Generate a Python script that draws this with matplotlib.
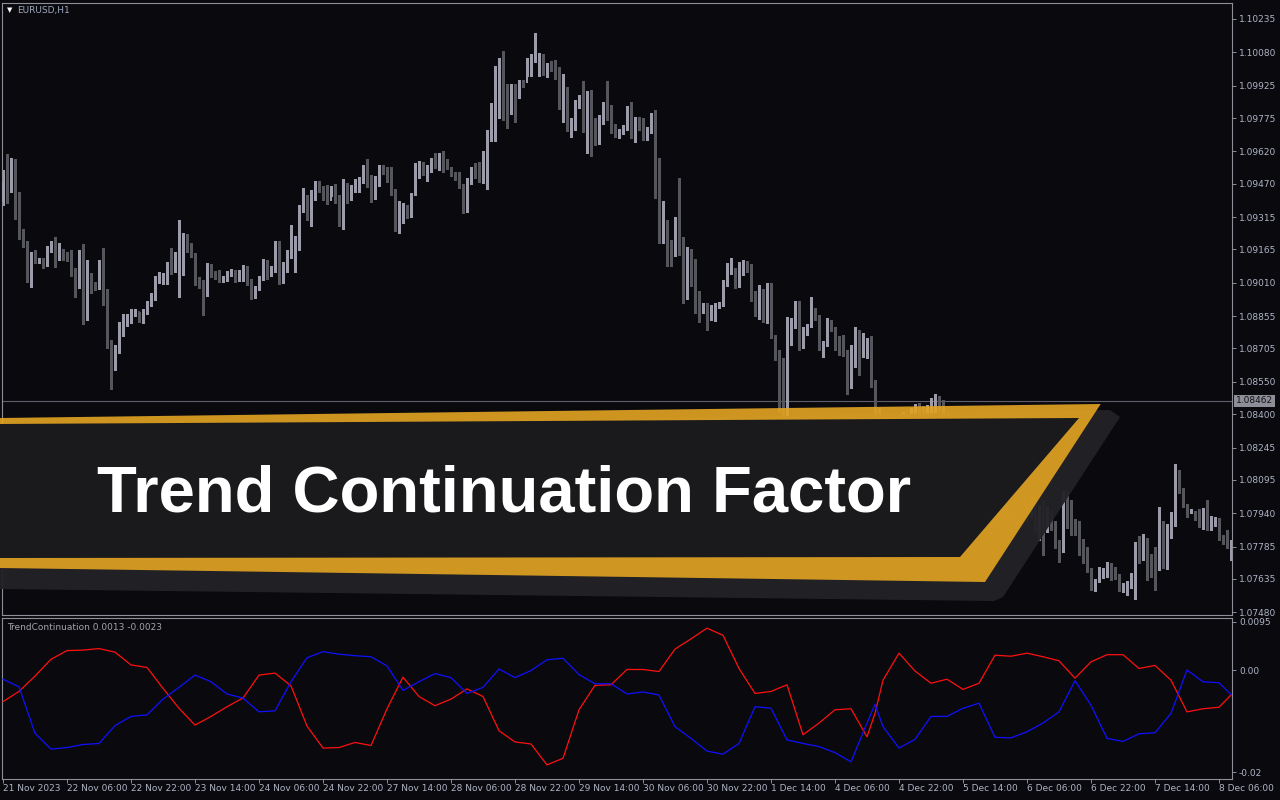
import matplotlib
matplotlib.use("Agg")
import matplotlib.pyplot as plt
import matplotlib.transforms as mtransforms
from matplotlib.patches import Polygon
import numpy as np

# ---------------- data (EURUSD H1, prices in points = 1e-5) ----------------
open0_pts = 109385
close_pts = [
    109478, 109446, 109529, 109334, 109218, 109199, 109069, 109144, 109111, 109116,
    109088, 109167, 109190, 109130, 109158, 109134, 109125, 109065, 108995, 109139,
    108842, 109018, 109000, 108990, 109060, 108953, 108730, 108647, 108698, 108782,
    108837, 108842, 108870, 108879, 108847, 108874, 108912, 108944, 109028, 109042,
    109046, 109097, 109074, 109134, 109172, 109227, 109181, 109139, 109023, 109004,
    108953, 109093, 109051, 109046, 109023, 109023, 109051, 109065, 109023, 109056,
    109065, 109009, 108944, 108986, 109032, 109111, 109065, 109074, 109176, 109018,
    109093, 109139, 109162, 109213, 109362, 109394, 109325, 109404, 109473, 109446,
    109436, 109390, 109446, 109390, 109278, 109464, 109427, 109450, 109469, 109492,
    109497, 109464, 109422, 109478, 109543, 109538, 109487, 109427, 109269, 109325,
    109357, 109334, 109418, 109562, 109566, 109538, 109538, 109585, 109571, 109571,
    109566, 109543, 109515, 109501, 109459, 109348, 109473, 109534, 109511, 109492,
    109492, 109719, 109789, 109803, 110049, 109863, 109803, 109910, 109873, 109947,
    109938, 110035, 110058, 110058, 110063, 109979, 110021, 110012, 110003, 109840,
    109896, 109738, 109761, 109845, 109849, 109719, 109761, 109738, 109673, 109757,
    109840, 109826, 109715, 109692, 109715, 109733, 109826, 109692, 109766, 109738,
    109682, 109719, 109784, 109511, 109227, 109251, 109176, 109148, 109255, 109153,
    109079, 109111, 109060, 108893, 108884, 108898, 108842, 108888, 108898, 108912,
    109014, 109065, 109074, 109000, 109065, 109107, 109079, 108939, 108926, 108977,
    108898, 108967, 108758, 108666, 108429, 108396, 108772, 108814, 108888, 108712,
    108791, 108809, 108870, 108851, 108707, 108730, 108823, 108795, 108707, 108684,
    108679, 108531, 108633, 108744, 108675, 108689, 108689, 108536, 108396, 108373,
    108336, 108317, 108350, 108327, 108364, 108382, 108359, 108396, 108429, 108419,
    108401, 108410, 108443, 108470, 108452, 108396, 108350, 108317, 108280, 108224,
    108187, 108141, 108094, 108039, 108002, 107946, 107885, 107839, 107918, 107899,
    107932, 107946, 107918, 107955, 107937, 107964, 107932, 108002, 107867, 107895,
    107853, 107909, 107899, 107788, 107765, 107974, 107937, 107890, 107881, 107802,
    107774, 107672, 107612, 107626, 107663, 107667, 107681, 107667, 107639, 107588,
    107598, 107612, 107630, 107802, 107797, 107802, 107700, 107695, 107686, 107895,
    107690, 107834, 107932, 108132, 108043, 107974, 107941, 107950, 107923, 107890,
    107955, 107872, 107890, 107913, 107825, 107820, 107783, 107797,
]
high_pts = [
    109534, 109608, 109590, 109585, 109432, 109260, 109204, 109153, 109162, 109125,
    109125, 109181, 109204, 109222, 109195, 109167, 109153, 109162, 109079, 109162,
    109190, 109116, 109056, 109014, 109116, 109172, 108981, 108744, 108721, 108828,
    108865, 108865, 108888, 108888, 108874, 108888, 108926, 108963, 109042, 109060,
    109056, 109107, 109172, 109153, 109302, 109241, 109236, 109195, 109148, 109037,
    109023, 109102, 109097, 109065, 109069, 109042, 109065, 109074, 109069, 109069,
    109093, 109088, 109028, 108995, 109042, 109120, 109116, 109088, 109204, 109204,
    109107, 109162, 109278, 109227, 109371, 109450, 109418, 109441, 109483, 109483,
    109459, 109464, 109459, 109469, 109418, 109492, 109473, 109464, 109492, 109501,
    109557, 109585, 109511, 109506, 109557, 109557, 109548, 109548, 109446, 109390,
    109381, 109371, 109427, 109566, 109576, 109571, 109557, 109590, 109613, 109613,
    109622, 109585, 109548, 109524, 109524, 109469, 109497, 109548, 109566, 109571,
    109622, 109719, 109845, 110016, 110054, 110086, 109933, 109933, 109933, 109952,
    109952, 110054, 110072, 110170, 110077, 110072, 110030, 110040, 110044, 110012,
    109979, 109919, 109775, 109859, 109882, 109947, 109901, 109905, 109775, 109789,
    109849, 109947, 109835, 109747, 109724, 109743, 109831, 109849, 109780, 109780,
    109775, 109733, 109798, 109812, 109590, 109390, 109302, 109209, 109316, 109497,
    109222, 109176, 109167, 109120, 108972, 108916, 108916, 108907, 108916, 108921,
    109023, 109102, 109125, 109079, 109107, 109116, 109111, 109097, 108972, 109000,
    108981, 109009, 109009, 108767, 108698, 108661, 108851, 108847, 108926, 108926,
    108805, 108819, 108944, 108893, 108861, 108740, 108847, 108837, 108805, 108763,
    108767, 108698, 108721, 108805, 108791, 108777, 108754, 108763, 108559, 108429,
    108382, 108350, 108382, 108373, 108396, 108410, 108401, 108429, 108447, 108452,
    108438, 108443, 108475, 108493, 108484, 108466, 108410, 108373, 108336, 108289,
    108234, 108201, 108150, 108104, 108048, 108011, 107955, 107909, 107946, 107946,
    107978, 107983, 107964, 108002, 107974, 108002, 107983, 108030, 108016, 107978,
    108002, 107969, 107955, 107904, 107816, 108044, 108044, 108002, 107913, 107904,
    107820, 107783, 107686, 107635, 107691, 107686, 107714, 107709, 107691, 107658,
    107616, 107626, 107663, 107806, 107834, 107844, 107825, 107751, 107783, 107969,
    107904, 107890, 107946, 108169, 108141, 108057, 107983, 107960, 107950, 107960,
    107964, 108002, 107927, 107923, 107918, 107839, 107862, 107816,
]
low_pts = [
    109371, 109381, 109432, 109306, 109213, 109176, 109014, 108991, 109102, 109102,
    109079, 109088, 109153, 109083, 109116, 109116, 109111, 109042, 108944, 108986,
    108819, 108837, 108963, 108977, 108981, 108907, 108707, 108517, 108605, 108684,
    108763, 108809, 108823, 108856, 108828, 108823, 108865, 108902, 108930, 109009,
    109004, 109004, 109051, 109060, 108944, 109046, 109153, 109130, 109000, 108986,
    108861, 108949, 109037, 109028, 109014, 109014, 109018, 109042, 109014, 109018,
    109018, 109000, 108935, 108940, 108977, 109023, 109028, 109042, 109060, 109004,
    109009, 109060, 109125, 109060, 109162, 109339, 109302, 109274, 109394, 109432,
    109394, 109376, 109413, 109381, 109274, 109260, 109381, 109394, 109432, 109432,
    109473, 109455, 109385, 109399, 109459, 109515, 109478, 109418, 109251, 109241,
    109288, 109311, 109316, 109418, 109497, 109511, 109483, 109524, 109543, 109534,
    109524, 109538, 109506, 109487, 109450, 109334, 109339, 109469, 109497, 109478,
    109473, 109446, 109668, 109668, 109775, 109766, 109729, 109794, 109757, 109868,
    109919, 109970, 109970, 110035, 109970, 109975, 109965, 109993, 109956, 109817,
    109757, 109715, 109687, 109719, 109822, 109710, 109613, 109599, 109650, 109655,
    109747, 109766, 109706, 109687, 109682, 109701, 109719, 109682, 109664, 109719,
    109673, 109673, 109706, 109404, 109195, 109195, 109088, 109088, 109134, 109139,
    108916, 108935, 108995, 108870, 108828, 108870, 108791, 108837, 108833, 108893,
    108902, 108995, 109051, 108986, 108991, 109046, 109060, 108926, 108856, 108842,
    108828, 108823, 108754, 108652, 108410, 108373, 108373, 108721, 108800, 108698,
    108707, 108767, 108805, 108837, 108698, 108666, 108717, 108786, 108698, 108675,
    108670, 108494, 108522, 108619, 108582, 108666, 108661, 108526, 108373, 108327,
    108299, 108280, 108313, 108299, 108336, 108354, 108327, 108350, 108382, 108392,
    108373, 108382, 108392, 108410, 108419, 108373, 108327, 108289, 108252, 108197,
    108159, 108113, 108067, 108011, 107974, 107918, 107853, 107816, 107830, 107862,
    107885, 107909, 107890, 107918, 107899, 107937, 107899, 107923, 107853, 107816,
    107746, 107853, 107862, 107779, 107714, 107760, 107871, 107839, 107839, 107746,
    107709, 107667, 107584, 107579, 107621, 107639, 107644, 107630, 107635, 107579,
    107574, 107561, 107593, 107542, 107709, 107723, 107630, 107644, 107584, 107677,
    107686, 107681, 107825, 107881, 108034, 107969, 107923, 107941, 107909, 107876,
    107867, 107862, 107862, 107881, 107816, 107797, 107779, 107723,
]

# Trend Continuation Factor indicator (sampled bars)
tcf_bars = [0, 4, 8, 12, 16, 20, 24, 28, 32, 36, 40, 44, 48, 52, 56, 60, 64, 68, 72, 76,
            80, 84, 88, 92, 96, 100, 104, 108, 112, 116, 120, 124, 128, 132, 136, 140,
            144, 148, 152, 156, 160, 164, 168, 172, 176, 180, 184, 188, 192, 196, 200,
            204, 208, 212, 216, 218, 220, 224, 228, 232, 236, 240, 244, 248, 252, 256,
            260, 264, 268, 272, 276, 280, 284, 288, 292, 296, 300, 304, 307]
tcf_red = [-0.0062, -0.0042, -0.0012, 0.0021, 0.0038, 0.0039, 0.0042, 0.0035, 0.0010, 0.0005,
           -0.0036, -0.0075, -0.0108, -0.0091, -0.0072, -0.0055, -0.0010, -0.0006, -0.0031, -0.0110,
           -0.0153, -0.0152, -0.0142, -0.0148, -0.0076, -0.0014, -0.0052, -0.0070, -0.0057, -0.0037,
           -0.0052, -0.0119, -0.0141, -0.0145, -0.0186, -0.0173, -0.0078, -0.0030, -0.0029, 0.0001,
           0.0001, -0.0003, 0.0041, 0.0061, 0.0082, 0.0068, 0.0003, -0.0046, -0.0042, -0.0029,
           -0.0127, -0.0104, -0.0078, -0.0076, -0.0131, -0.0085, -0.0020, 0.0033, -0.0002, -0.0026,
           -0.0018, -0.0038, -0.0026, 0.0029, 0.0027, 0.0033, 0.0026, 0.0018, -0.0016, 0.0016,
           0.0030, 0.0030, 0.0003, 0.0009, -0.0020, -0.0082, -0.0076, -0.0073, -0.0049]
tcf_blue = [-0.0018, -0.0033, -0.0124, -0.0155, -0.0152, -0.0146, -0.0144, -0.0109, -0.0091, -0.0088,
            -0.0057, -0.0034, -0.0010, -0.0023, -0.0047, -0.0055, -0.0082, -0.0080, -0.0023, 0.0024,
            0.0036, 0.0031, 0.0028, 0.0026, 0.0008, -0.0040, -0.0023, -0.0007, -0.0015, -0.0046,
            -0.0034, 0.0002, -0.0015, -0.0001, 0.0020, 0.0023, -0.0009, -0.0027, -0.0027, -0.0047,
            -0.0043, -0.0049, -0.0111, -0.0134, -0.0159, -0.0165, -0.0144, -0.0072, -0.0075, -0.0137,
            -0.0144, -0.0150, -0.0162, -0.0180, -0.0104, -0.0067, -0.0111, -0.0153, -0.0136, -0.0091,
            -0.0091, -0.0075, -0.0065, -0.0132, -0.0133, -0.0121, -0.0104, -0.0082, -0.0021, -0.0069,
            -0.0134, -0.0140, -0.0125, -0.0123, -0.0085, 0.0000, -0.0023, -0.0025, -0.0048]

price_ticks = [1.10235, 1.10080, 1.09925, 1.09775, 1.09620, 1.09470, 1.09315, 1.09165,
               1.09010, 1.08855, 1.08705, 1.08550, 1.08400, 1.08245, 1.08095, 1.07940,
               1.07785, 1.07635, 1.07480]
ind_ticks = [0.0095, 0.0, -0.02]
ind_tick_labels = ["0.0095", "0.00", "-0.02"]
time_tick_bars = list(range(0, 305, 16))
time_tick_labels = ["21 Nov 2023", "22 Nov 06:00", "22 Nov 22:00", "23 Nov 14:00",
                    "24 Nov 06:00", "24 Nov 22:00", "27 Nov 14:00", "28 Nov 06:00",
                    "28 Nov 22:00", "29 Nov 14:00", "30 Nov 06:00", "30 Nov 22:00",
                    "1 Dec 14:00", "4 Dec 06:00", "4 Dec 22:00", "5 Dec 14:00",
                    "6 Dec 06:00", "6 Dec 22:00", "7 Dec 14:00", "8 Dec 06:00"]
bid_price = 1.08462
symbol_label = "EURUSD,H1"
indicator_label = "TrendContinuation 0.0013 -0.0023"
banner_title = "Trend Continuation Factor"

# ---------------- styling ----------------
W, H = 1280, 800
BG = "#0a0a0e"
FRAME = "#8e8e99"
TXT = "#aeb4c6"
BULL = "#9b9baa"
BEAR = "#55555c"

plt.rcParams["font.family"] = ["DejaVu Sans"]

fig = plt.figure(figsize=(W / 100, H / 100), dpi=100, facecolor=BG)


def fx(px):
    return px / W


def fy(py):
    return 1 - py / H


ax = fig.add_axes([fx(2), fy(615), fx(1232) - fx(2), fy(3) - fy(615)], facecolor=BG)
axi = fig.add_axes([fx(2), fy(779), fx(1232) - fx(2), fy(618) - fy(779)], facecolor=BG)

# ---------------- candles ----------------
c = np.array(close_pts) / 1e5
o = np.concatenate([[open0_pts], close_pts[:-1]]) / 1e5
hi = np.array(high_pts) / 1e5
lo = np.array(low_pts) / 1e5
x = np.arange(len(c))
up = c >= o
cols = np.where(up, BULL, BEAR)
ax.vlines(x, lo, hi, colors=cols, linewidth=0.75, zorder=2, antialiased=False)
body_bot = np.minimum(o, c)
body_h = np.maximum(np.abs(c - o), 0.00004)
ax.bar(x, body_h, bottom=body_bot, width=0.72, color=cols, linewidth=0, zorder=3,
       antialiased=False)

ax.axhline(bid_price, color="#5e5e6a", lw=0.8, zorder=1)

ax.set_xlim(-0.25, 307.25)
ax.set_ylim(1.074676, 1.103091)
ax.yaxis.tick_right()
ax.set_yticks(price_ticks)
ax.set_yticklabels([f"{v:.5f}" for v in price_ticks])
ax.tick_params(axis="y", colors=FRAME, labelcolor=TXT, labelsize=6.5, length=3, width=0.7, pad=2)
ax.set_xticks([])
for s in ax.spines.values():
    s.set_color(FRAME)
    s.set_linewidth(0.8)

blend = mtransforms.blended_transform_factory(ax.transAxes, ax.transData)
ax.text(1.0 + 4 / 1230, bid_price, f"{bid_price:.5f}", transform=blend, ha="left", va="center",
        fontsize=6.5, color="#101014",
        bbox=dict(boxstyle="square,pad=0.18", fc="#8e8e98", ec="none"), zorder=10, clip_on=False)

ax.text(5 / 1230, 1 - 7 / 612, "\u25bc", transform=ax.transAxes, ha="left", va="center",
        fontsize=5, color="white")
ax.text(15 / 1230, 1 - 7 / 612, symbol_label, transform=ax.transAxes, ha="left", va="center",
        fontsize=6.5, color="#9ea8bc")

# ---------------- indicator ----------------
axi.plot(tcf_bars, tcf_red, color="#ff1010", lw=0.9, zorder=3)
axi.plot(tcf_bars, tcf_blue, color="#1010ff", lw=0.9, zorder=3)
axi.set_xlim(-0.25, 307.25)
axi.set_ylim(-0.021364, 0.010192)
axi.yaxis.tick_right()
axi.set_yticks(ind_ticks)
axi.set_yticklabels(ind_tick_labels)
axi.tick_params(axis="y", colors=FRAME, labelcolor=TXT, labelsize=6.5, length=3, width=0.7, pad=2)
axi.set_xticks(time_tick_bars)
axi.set_xticklabels(time_tick_labels)
axi.tick_params(axis="x", colors=FRAME, labelcolor=TXT, labelsize=6.5, length=3, width=0.7, pad=0.5)
for lab in axi.get_xticklabels():
    lab.set_horizontalalignment("left")
for s in axi.spines.values():
    s.set_color(FRAME)
    s.set_linewidth(0.8)
axi.text(5 / 1230, 1 - 9 / 161, indicator_label, transform=axi.transAxes, ha="left", va="center",
         fontsize=6.5, color="#a2a2ac")

# ---------------- banner overlay ----------------
ov = fig.add_axes([0, 0, 1, 1], zorder=20)
ov.set_xlim(0, W)
ov.set_ylim(H, 0)
ov.axis("off")
ov.patch.set_alpha(0)

shadow = Polygon([(0, 430), (1110, 410), (1120, 417), (1003, 597), (994, 601), (0, 589)],
                 closed=True, fc="#232327", ec="none", alpha=0.96)
orange = Polygon([(0, 418), (1100.7, 404), (985, 582), (0, 568)],
                 closed=True, fc="#e2a322", ec="none", alpha=0.91)
dark = Polygon([(0, 424), (1079, 418), (960, 557), (0, 558)],
               closed=True, fc="#1a1a1c", ec="none", alpha=1.0)
for p in (shadow, orange, dark):
    ov.add_patch(p)

ov.text(504.5, 511, banner_title, ha="center", va="baseline", fontsize=47,
        fontweight="bold", family=["Liberation Sans", "DejaVu Sans"], color="white")

fig.savefig("out.png", dpi=100, facecolor=BG)
